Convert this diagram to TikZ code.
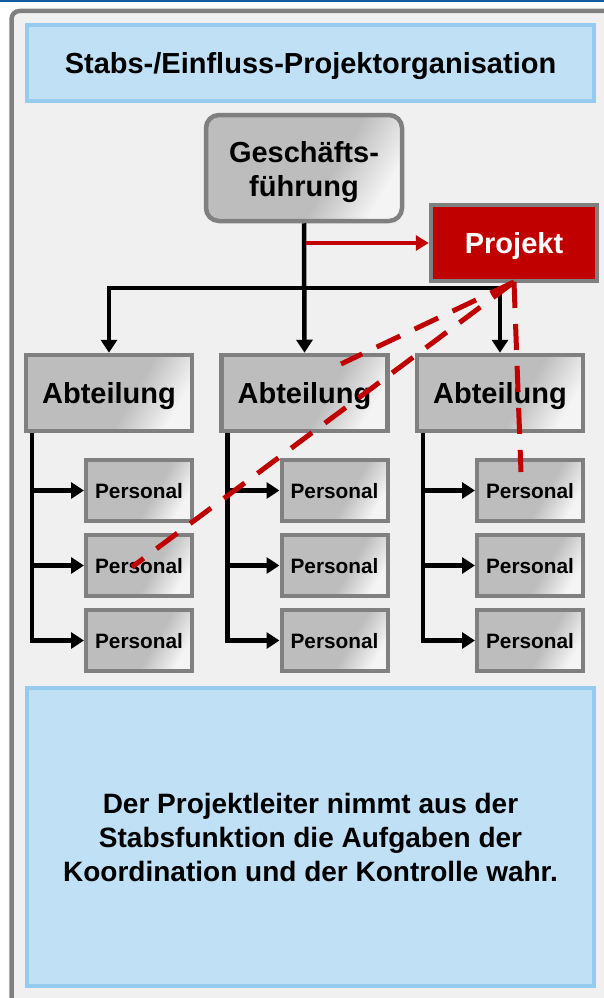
\documentclass[tikz,border=0pt]{standalone}
\usepackage{fontspec}
\setmainfont{Liberation Sans}
\usetikzlibrary{arrows.meta}
\definecolor{bgray}{HTML}{808080}
\definecolor{boxfill}{HTML}{F0F0F0}
\definecolor{lblue}{HTML}{C0E0F5}
\definecolor{lblueb}{HTML}{96CAEE}
\definecolor{pred}{HTML}{C00000}
\definecolor{topblue}{HTML}{0F5A9C}
\definecolor{silA}{HTML}{BDBDBD}
\definecolor{silB}{HTML}{F4F4F4}
\pgfdeclarehorizontalshading{silver}{100bp}{color(0bp)=(silA); color(25bp)=(silA); color(58bp)=(silA); color(75bp)=(silB); color(100bp)=(silB)}
\tikzset{
  silverbox/.style={draw=bgray, line width=4.5pt, shade, shading=silver, shading angle=-30, inner sep=0pt, align=center, text=black},
  bigtxt/.style={font=\fontsize{29}{34}\selectfont\bfseries},
  smalltxt/.style={font=\fontsize{20.8}{24}\selectfont\bfseries},
  abtbox/.style={silverbox, bigtxt, text depth=0pt, minimum width=166pt, minimum height=76pt},
  persbox/.style={silverbox, smalltxt, text depth=0pt, line width=4pt, minimum width=106pt, minimum height=61pt},
  bluebox/.style={draw=lblueb, fill=lblue, line width=4pt, inner sep=0pt, minimum width=567pt, align=center, text=black},
  conn/.style={black, line width=4.5pt},
  tip/.style={-{Triangle[width=16pt,length=13pt]}},
  redconn/.style={pred, line width=4pt, -{Triangle[width=15pt,length=13pt]}},
  stab/.style={pred, line width=5pt, dash pattern=on 26pt off 16pt},
}
\begin{document}
\begin{tikzpicture}[x=1pt, y=-1pt]
\useasboundingbox (0,0) rectangle (604,998);
\fill[white] (0,0) rectangle (604,998);
\fill[topblue] (0,0) rectangle (604,2.5);
\draw[bgray, line width=4.5pt, fill=boxfill, rounded corners=8pt] (11.5,1030) -- (11.5,11) -- (630,11) -- (630,1030) -- cycle;

% blue boxes
\node[bluebox, minimum height=76pt, bigtxt, text depth=0pt] (title) at (310.5,63) {Stabs-/Einfluss-Projektorganisation};
\node[bluebox, minimum height=298pt, font=\fontsize{28}{34}\selectfont\bfseries] (note) at (310.5,837)
  {Der Projektleiter nimmt aus der\\Stabsfunktion die Aufgaben der\\Koordination und der Kontrolle wahr.};

% top nodes
\node[silverbox, rounded corners=13pt, minimum width=196pt, minimum height=106pt] (gf) at (304,168) {};
\node[bigtxt, align=center, inner sep=0pt] (gftext) at ([yshift=-4.5pt]gf.center) {Geschäfts-\\führung};
\node[draw=bgray, line width=4.5pt, fill=pred, text=white, bigtxt, text depth=0pt, inner sep=0pt, minimum width=166pt, minimum height=76pt] (pj) at (514,243) {Projekt};

% departments
\node[abtbox] (a1) at (109,393) {Abteilung};
\node[abtbox] (a2) at (304.5,393) {Abteilung};
\node[abtbox] (a3) at (500,393) {Abteilung};

% personnel
\foreach \c/\x in {1/139,2/334.5,3/530}{
  \node[persbox] (p\c1) at (\x,490.5) {Personal};
  \node[persbox] (p\c2) at (\x,565.5) {Personal};
  \node[persbox] (p\c3) at (\x,640.5) {Personal};
}

% hierarchy connectors
\coordinate (bus) at (304,288);
\draw[conn, tip] (gf.south) -- (a2.north);
\draw[conn, {Triangle[width=16pt,length=13pt]}-{Triangle[width=16pt,length=13pt]}] (a1.north) |- (bus) -| (a3.north);
\foreach \c in {1,2,3}{
  \draw[conn, tip] ([xshift=8pt]a\c.south west) |- (p\c3.west);
  \draw[conn, tip] ([xshift=8pt]a\c.south west) |- (p\c1.west);
  \draw[conn, tip] ([xshift=8pt]a\c.south west) |- (p\c2.west);
}

% staff connection
\draw[redconn] ([xshift=2.3pt]gf.south |- pj.west) -- (pj.west);

% influence lines
\coordinate (d1) at (341,364);
\coordinate (d2) at (132,567);
\coordinate (d3) at (521,472);
\coordinate (ps) at (514,282);
\draw[stab] (ps) -- (d1);
\draw[stab] (ps) -- (d2);
\draw[stab] (ps) -- (d3);
\end{tikzpicture}
\end{document}
